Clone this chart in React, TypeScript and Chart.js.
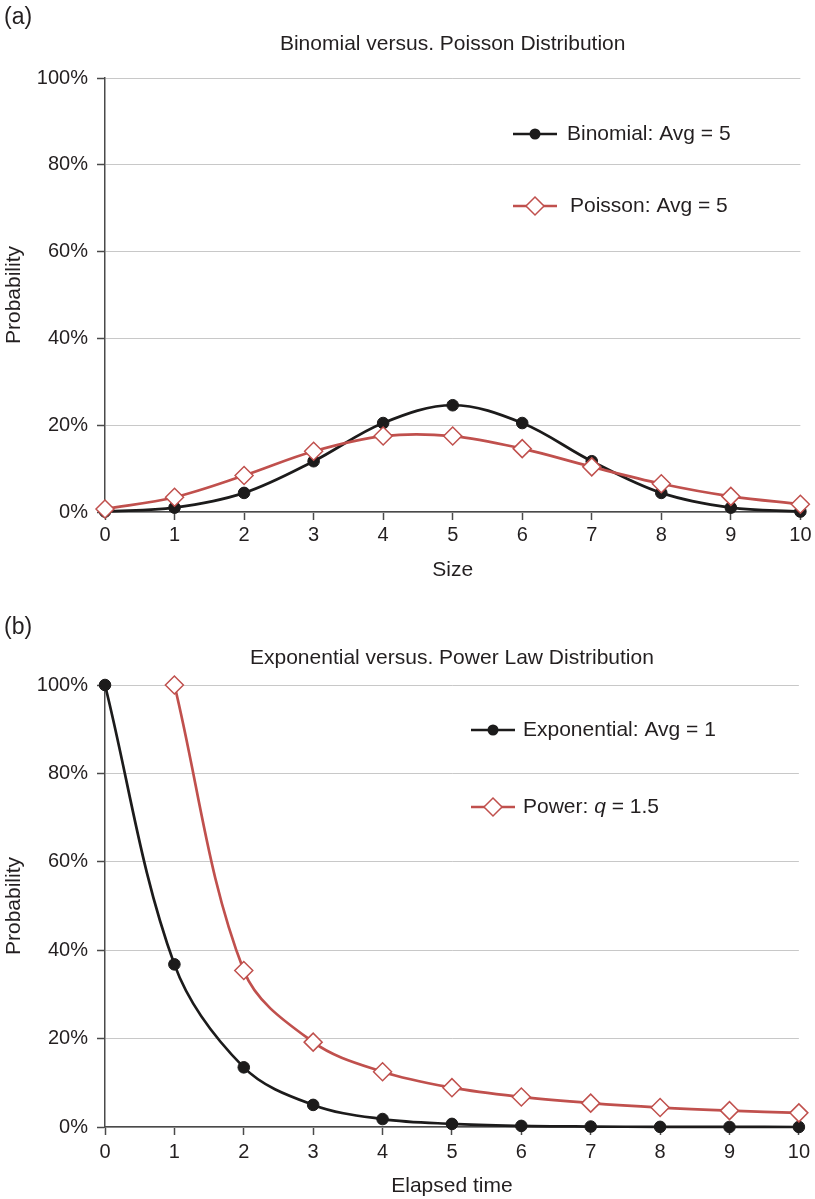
import React, { useEffect, useRef } from "react";
import { Chart, registerables } from "chart.js";

Chart.register(...registerables);

// ---- data ----
const sizes = [0, 1, 2, 3, 4, 5, 6, 7, 8, 9, 10];
const binomial = [0.001, 0.01, 0.044, 0.117, 0.205, 0.246, 0.205, 0.117, 0.044, 0.01, 0.001];
const poisson = [0.007, 0.034, 0.084, 0.14, 0.175, 0.175, 0.146, 0.104, 0.065, 0.036, 0.018];

const times = [0, 1, 2, 3, 4, 5, 6, 7, 8, 9, 10];
const exponential = [1, 0.368, 0.135, 0.05, 0.018, 0.007, 0.0025, 0.001, 0.0003, 0.0001, 0.00005];
const powerTimes = [1, 2, 3, 4, 5, 6, 7, 8, 9, 10];
const power = [1, 0.354, 0.192, 0.125, 0.089, 0.068, 0.054, 0.044, 0.037, 0.032];

const titleA = "Binomial versus. Poisson Distribution";
const titleB = "Exponential versus. Power Law Distribution";
const xTitleA = "Size";
const xTitleB = "Elapsed time";
const yTitle = "Probability";

// ---- styles ----
const FONT = "'Liberation Sans', Arial, Helvetica, sans-serif";
const BLACK = "#1c1b1b";
const RED = "#c0504d";
const AXIS = "#4a4a4a";
const GRID = "#c8c8c8";
const TEXT = "#231f20";

type Part = { text: string; italic?: boolean };
type LegendItem = { parts: Part[]; color: string; marker: "circle" | "diamond"; x0: number; x1: number; y: number; textX: number };

function makeLegend(items: LegendItem[]) {
  return {
    id: "insideLegend",
    afterDraw(chart: any) {
      const ctx: CanvasRenderingContext2D = chart.ctx;
      items.forEach((it) => {
        ctx.save();
        ctx.strokeStyle = it.color;
        ctx.lineWidth = 2.7;
        ctx.beginPath();
        ctx.moveTo(it.x0, it.y);
        ctx.lineTo(it.x1, it.y);
        ctx.stroke();
        const cx = (it.x0 + it.x1) / 2;
        if (it.marker === "circle") {
          ctx.fillStyle = it.color;
          ctx.beginPath();
          ctx.arc(cx, it.y, 5.5, 0, Math.PI * 2);
          ctx.fill();
        } else {
          const r = 9;
          ctx.beginPath();
          ctx.moveTo(cx, it.y - r);
          ctx.lineTo(cx + r, it.y);
          ctx.lineTo(cx, it.y + r);
          ctx.lineTo(cx - r, it.y);
          ctx.closePath();
          ctx.fillStyle = "#ffffff";
          ctx.fill();
          ctx.lineWidth = 1.5;
          ctx.stroke();
        }
        ctx.fillStyle = TEXT;
        ctx.textBaseline = "middle";
        ctx.textAlign = "left";
        let x = it.textX;
        it.parts.forEach((p) => {
          ctx.font = `${p.italic ? "italic " : ""}21px ${FONT}`;
          ctx.fillText(p.text, x, it.y);
          x += ctx.measureText(p.text).width;
        });
        ctx.restore();
      });
    },
  };
}

function buildScales(xTitle: string, xHeight: number, xTickPad: number, xTitlePadBottom: number) {
  return {
    x: {
      type: "linear",
      min: 0,
      max: 10,
      afterFit: (s: any) => {
        s.height = xHeight;
      },
      ticks: {
        stepSize: 1,
        padding: xTickPad,
        autoSkip: false,
        maxRotation: 0,
        color: TEXT,
        font: { family: FONT, size: 20 },
      },
      grid: {
        display: true,
        drawOnChartArea: false,
        drawTicks: true,
        tickLength: 8,
        tickColor: AXIS,
        tickWidth: 1.5,
      },
      border: { display: true, color: AXIS, width: 1.5 },
      title: {
        display: true,
        text: xTitle,
        color: TEXT,
        font: { family: FONT, size: 21 },
        padding: { top: 0, bottom: xTitlePadBottom },
      },
    },
    y: {
      min: 0,
      max: 1,
      afterFit: (s: any) => {
        s.width = 105;
      },
      ticks: {
        stepSize: 0.2,
        padding: 9,
        color: TEXT,
        font: { family: FONT, size: 20 },
        callback: (v: any) => Math.round(Number(v) * 100) + "%",
      },
      grid: {
        color: GRID,
        lineWidth: 1,
        drawTicks: true,
        tickLength: 8,
        tickColor: AXIS,
        tickWidth: 1.5,
      },
      border: { display: true, color: AXIS, width: 1.5 },
      title: {
        display: true,
        text: yTitle,
        color: TEXT,
        font: { family: FONT, size: 21 },
        padding: { top: 2, bottom: 0 },
      },
    },
  };
}

function blackSet(label: string, xs: number[], ys: number[]) {
  return {
    label,
    data: xs.map((x, i) => ({ x, y: ys[i] })),
    borderColor: BLACK,
    backgroundColor: BLACK,
    borderWidth: 2.7,
    pointStyle: "circle",
    pointRadius: 5.8,
    pointBackgroundColor: BLACK,
    pointBorderColor: BLACK,
    pointBorderWidth: 1,
    tension: 0.35,
    clip: false,
    order: 1,
  };
}

function redSet(label: string, xs: number[], ys: number[]) {
  return {
    label,
    data: xs.map((x, i) => ({ x, y: ys[i] })),
    borderColor: RED,
    backgroundColor: "#ffffff",
    borderWidth: 2.7,
    pointStyle: "rectRot",
    pointRadius: 9,
    pointBackgroundColor: "#ffffff",
    pointBorderColor: RED,
    pointBorderWidth: 1.5,
    tension: 0.35,
    clip: false,
    order: 0,
  };
}

function configA(): any {
  return {
    type: "line",
    data: {
      datasets: [redSet("Poisson: Avg = 5", sizes, poisson), blackSet("Binomial: Avg = 5", sizes, binomial)],
    },
    options: {
      responsive: false,
      animation: false,
      devicePixelRatio: 1,
      layout: { padding: { left: 0, right: 14, top: 0, bottom: 8 } },
      plugins: {
        legend: { display: false },
        tooltip: { enabled: false },
        title: {
          display: true,
          text: titleA,
          fullSize: false,
          color: TEXT,
          font: { family: FONT, size: 21, weight: "normal" },
          padding: { top: 31.4, bottom: 21.4 },
        },
      },
      scales: buildScales(xTitleA, 80, 3.5, 8.9),
    },
    plugins: [
      makeLegend([
        { parts: [{ text: "Binomial: Avg = 5" }], color: BLACK, marker: "circle", x0: 513, x1: 557, y: 134, textX: 567 },
        { parts: [{ text: "Poisson: Avg = 5" }], color: RED, marker: "diamond", x0: 513, x1: 557, y: 206, textX: 570 },
      ]),
    ],
  };
}

function configB(): any {
  return {
    type: "line",
    data: {
      datasets: [redSet("Power: q = 1.5", powerTimes, power), blackSet("Exponential: Avg = 1", times, exponential)],
    },
    options: {
      responsive: false,
      animation: false,
      devicePixelRatio: 1,
      layout: { padding: { left: 0, right: 15, top: 0, bottom: 0 } },
      plugins: {
        legend: { display: false },
        tooltip: { enabled: false },
        title: {
          display: true,
          text: titleB,
          fullSize: false,
          color: TEXT,
          font: { family: FONT, size: 21, weight: "normal" },
          padding: { top: 45.4, bottom: 14.4 },
        },
      },
      scales: buildScales(xTitleB, 72, 5, 0.4),
    },
    plugins: [
      makeLegend([
        { parts: [{ text: "Exponential: Avg = 1" }], color: BLACK, marker: "circle", x0: 471, x1: 515, y: 130, textX: 523 },
        {
          parts: [{ text: "Power: " }, { text: "q", italic: true }, { text: " = 1.5" }],
          color: RED,
          marker: "diamond",
          x0: 471,
          x1: 515,
          y: 207,
          textX: 523,
        },
      ]),
    ],
  };
}

function Panel({ make, top, height }: { make: () => any; top: number; height: number }) {
  const ref = useRef<HTMLCanvasElement>(null);
  useEffect(() => {
    const chart = new Chart(ref.current as HTMLCanvasElement, make());
    return () => chart.destroy();
  }, []);
  return (
    <canvas
      ref={ref}
      width={815}
      height={height}
      style={{ position: "absolute", left: 0, top, width: 815, height, display: "block" }}
    />
  );
}

const labelStyle: React.CSSProperties = {
  position: "absolute",
  left: 4,
  fontFamily: FONT,
  fontSize: 23,
  lineHeight: "23px",
  color: TEXT,
};

export default function App() {
  return (
    <div style={{ position: "absolute", left: 0, top: 0, width: 815, height: 1199, background: "#ffffff", overflow: "hidden" }}>
      <Panel make={configA} top={0} height={600} />
      <Panel make={configB} top={600} height={599} />
      <div style={{ ...labelStyle, top: 4.5 }}>(a)</div>
      <div style={{ ...labelStyle, top: 614.5 }}>(b)</div>
    </div>
  );
}
